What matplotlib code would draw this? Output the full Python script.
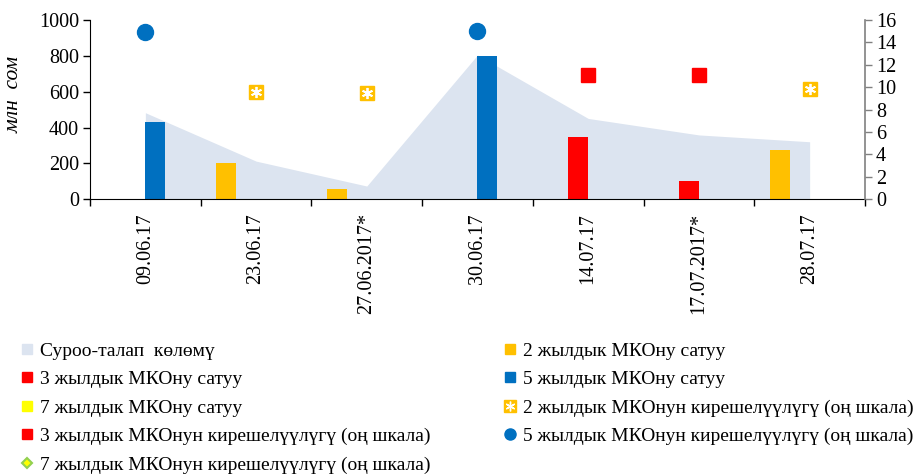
import matplotlib
matplotlib.use("Agg")
import matplotlib.pyplot as plt
import numpy as np
from matplotlib.lines import Line2D

plt.rcParams['font.family'] = 'serif'
plt.rcParams['font.serif'] = ['Liberation Serif', 'DejaVu Serif']

categories = ["09.06.17", "23.06.17", "27.06.2017*", "30.06.17", "14.07.17", "17.07.2017*", "28.07.17"]
demand = [483, 213, 74, 805, 451, 359, 321]
sale_2y = [np.nan, 200, 60, np.nan, np.nan, np.nan, 277]
sale_3y = [np.nan, np.nan, np.nan, np.nan, 350, 100, np.nan]
sale_5y = [430, np.nan, np.nan, 800, np.nan, np.nan, np.nan]
sale_7y = [np.nan] * 7
yield_2y = [np.nan, 9.57, 9.5, np.nan, np.nan, np.nan, 9.82]
yield_3y = [np.nan, np.nan, np.nan, np.nan, 11.1, 11.1, np.nan]
yield_5y = [14.9, np.nan, np.nan, 15.0, np.nan, np.nan, np.nan]
yield_7y = [np.nan] * 7

labels = ["Суроо-талап  көлөмү", "2 жылдык МКОну сатуу", "3 жылдык МКОну сатуу",
          "5 жылдык МКОну сатуу", "7 жылдык МКОну сатуу",
          "2 жылдык МКОнун кирешелүүлүгү (оң шкала)", "3 жылдык МКОнун кирешелүүлүгү (оң шкала)",
          "5 жылдык МКОнун кирешелүүлүгү (оң шкала)", "7 жылдык МКОнун кирешелүүлүгү (оң шкала)"]

c_area = "#DCE4F0"
c_blue = "#0070C0"
c_orange = "#FFC000"
c_red = "#FF0000"
c_yellow = "#FFFF00"

W, H = 923, 476
fig = plt.figure(figsize=(W / 100, H / 100), dpi=100)
ax = fig.add_axes([90 / W, (H - 199.3) / H, (865 - 90) / W, (199.3 - 20) / H])
ax2 = ax.twinx()

x = np.arange(len(categories))
ax.fill_between(x, 0, demand, color=c_area, linewidth=0, zorder=1)
bw = 0.18
for vals, off, col in [(sale_2y, -0.27, c_orange), (sale_3y, -0.09, c_red),
                       (sale_5y, 0.09, c_blue), (sale_7y, 0.27, c_yellow)]:
    ax.bar(x + off, np.nan_to_num(vals), width=bw, color=col, zorder=2, linewidth=0)

ax.set_xlim(-0.5, len(categories) - 0.5)
ax.set_ylim(0, 1000)
ax.set_yticks(np.arange(0, 1001, 200))
ax.set_xticks(np.arange(-0.5, len(categories), 1.0))
ax.set_xticklabels([])
ax.set_xticks(x, minor=True)
ax.set_xticklabels(categories, minor=True, rotation=90, fontsize=14.5)
ax.tick_params(axis='x', which='major', direction='out', length=5, width=1, color='black')
ax.tick_params(axis='x', which='minor', length=0, pad=10)
ax.tick_params(axis='y', direction='out', length=5, width=1, labelsize=14.5, pad=3)
for s in ['top', 'right']:
    ax.spines[s].set_visible(False)
ax.spines['left'].set_color('black')
ax.spines['bottom'].set_color('black')
ax.set_ylabel("млн  сом", fontsize=15.5, style='italic')
ax.yaxis.set_label_coords(-66 / 775, 0.587)

ax2.set_ylim(0, 16)
ax2.set_yticks(np.arange(0, 17, 2))
ax2.tick_params(axis='y', direction='out', length=5, width=1, color='#808080', labelsize=14.5, pad=3)
for s in ['top', 'left', 'bottom']:
    ax2.spines[s].set_visible(False)
ax2.spines['right'].set_color('#808080')
ax2.spines['right'].set_linewidth(1.2)

ax2.plot(x, yield_2y, linestyle='none', marker='s', markersize=10.5, color=c_orange, zorder=3)
ax2.plot(x, yield_2y, linestyle='none', marker=(6, 2, 0), markersize=8, markeredgecolor='white',
         markeredgewidth=1.3, zorder=4)
ax2.plot(x, yield_3y, linestyle='none', marker='s', markersize=10.5, color=c_red, zorder=3)
ax2.plot(x, yield_5y, linestyle='none', marker='o', markersize=11.5, color=c_blue, zorder=3)
ax2.plot(x, yield_7y, linestyle='none', marker='D', markersize=6, markerfacecolor=c_yellow,
         markeredgecolor='#92D050', zorder=3)

def sq(col):
    return Line2D([], [], linestyle='none', marker='s', markersize=6.5, color=col)

h_area = sq(c_area)
h_2 = sq(c_orange)
h_3 = sq(c_red)
h_5 = sq(c_blue)
h_7 = sq(c_yellow)
h_y2 = (Line2D([], [], linestyle='none', marker='s', markersize=9, color=c_orange),
        Line2D([], [], linestyle='none', marker=(6, 2, 0), markersize=7, markeredgecolor='white', markeredgewidth=1))
h_y3 = sq(c_red)
h_y5 = Line2D([], [], linestyle='none', marker='o', markersize=8, color=c_blue)
h_y7 = Line2D([], [], linestyle='none', marker='D', markersize=5, markerfacecolor=c_yellow,
              markeredgecolor='#92D050', markeredgewidth=1.5)

common = dict(frameon=False, fontsize=14, handlelength=0.8, handletextpad=0.3,
              labelspacing=0.56, borderaxespad=0, borderpad=0)
leg1 = fig.legend([h_area, h_3, h_7, h_y3, h_y7],
                  [labels[0], labels[2], labels[4], labels[6], labels[8]],
                  loc='upper left', bbox_to_anchor=(19 / W, (H - 342) / H), **common)
leg2 = fig.legend([h_2, h_5, h_y2, h_y5],
                  [labels[1], labels[3], labels[5], labels[7]],
                  loc='upper left', bbox_to_anchor=(502 / W, (H - 342) / H), **common)

fig.savefig("out.png", dpi=100)
